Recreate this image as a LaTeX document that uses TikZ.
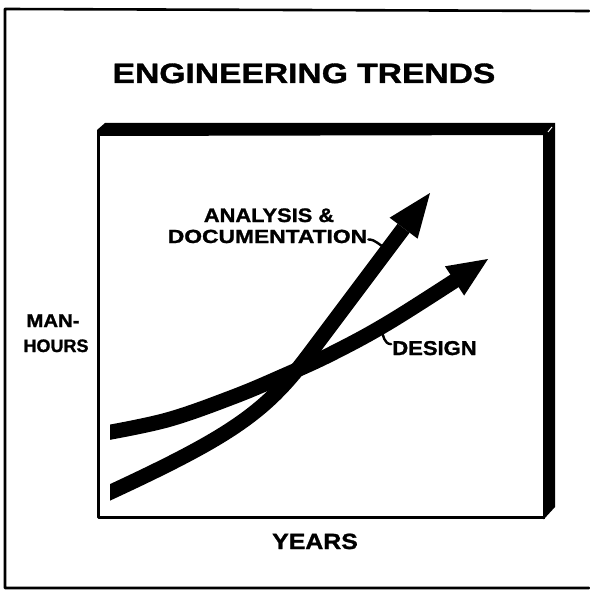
\documentclass[tikz,border=0pt]{standalone}
\usepackage{fontspec}
\setmainfont{Liberation Sans}[BoldFeatures={FakeBold=1.2}]
\usetikzlibrary{arrows.meta}
\begin{document}
\begin{tikzpicture}[x=1pt,y=-1pt,
  lbl/.style={anchor=base,inner sep=0pt,font=\bfseries},
  curveline/.style={line width=15pt,line cap=butt},
  leader/.style={line width=2.4pt,line cap=round},
  frameline/.style={line width=2.6pt,line join=round,line cap=round}]
\useasboundingbox (0,0) rectangle (589,591);
% outer frame (top, left, bottom)
\draw[frameline] (589,11) -- (5,9) -- (5,588) -- (589,588);
% 3D box: thick top and right bands
\fill (97,136) -- (97,130) -- (105,123) -- (555,123) -- (555,507) -- (544,519) -- (543,519) -- (543,135) -- cycle;
\draw[line width=1pt,white] (548,132) -- (552,127);
\draw[line width=3pt,line join=round] (98,134) -- (98,517) -- (545,517);
% curves
\begin{scope}
\clip (110,0) rectangle (589,591);
\draw[curveline,-{Triangle[length=40pt,width=35pt,line width=0pt]}]
  plot[smooth,tension=0.6] coordinates {(100,434) (167,420) (233,397) (283,376) (333,353) (393,320) (488,259)};
\draw[curveline,-{Triangle[length=44pt,width=35pt,line width=0pt]}]
  (100,497) .. controls (228,438) and (264,414) .. (307,357) -- (430,193);
\end{scope}
% labels
\node[lbl] (title) at (304,83) {\fontsize{28}{30}\selectfont\scalebox{1.2}[1]{ENGINEERING TRENDS}};
\node[lbl] (ana) at (269,222) {\fontsize{19.5}{21}\selectfont\scalebox{1.12}[1]{ANALYSIS \&}};
\node[lbl] (doc) at (267.5,243) {\fontsize{19}{21}\selectfont\scalebox{1.2}[1]{DOCUMENTATION}};
\node[lbl] (des) at (434.5,355) {\fontsize{20}{22}\selectfont\scalebox{1.1}[1]{DESIGN}};
\node[lbl] (man) at (53,327) {\fontsize{18.5}{20}\selectfont\scalebox{1.1}[1]{MAN-}};
\node[lbl] (hours) at (56,352) {\fontsize{18}{20}\selectfont HOURS};
\node[lbl] (years) at (315,549) {\fontsize{22}{24}\selectfont\scalebox{1.13}[1]{YEARS}};
% leaders
\coordinate (la) at (386,248);
\coordinate (ld) at (381,329);
\draw[leader] ([xshift=1pt,yshift=-3pt]doc.east) to[out=0,in=160] (la);
\draw[leader] ([xshift=-1pt,yshift=4pt]des.west) to[out=180,in=-70] (ld);
\end{tikzpicture}
\end{document}
